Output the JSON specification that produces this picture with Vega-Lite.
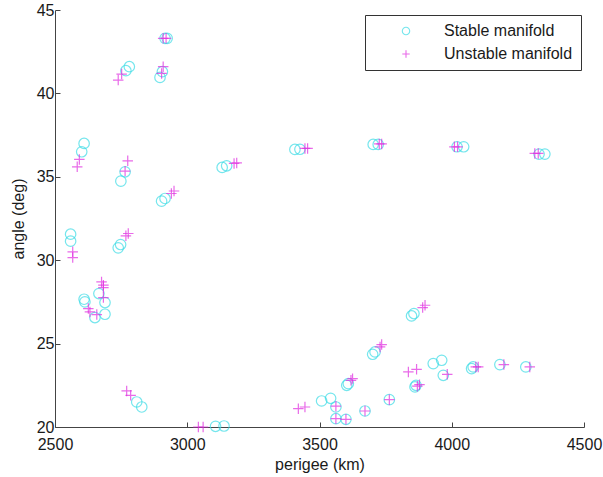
{
  "$schema": "https://vega.github.io/schema/vega-lite/v6.json",
  "width": 529,
  "height": 417,
  "autosize": {"type": "none"},
  "padding": {"left": 55, "top": 10, "right": 19, "bottom": 50},
  "background": "white",
  "config": {
    "view": {"stroke": null},
    "font": "Liberation Sans",
    "axis": {
      "grid": false,
      "domainColor": "#444",
      "tickColor": "#444",
      "tickSize": -5,
      "labelFontSize": 16,
      "labelColor": "#1a1a1a",
      "titleFontSize": 16,
      "titleFontWeight": "normal",
      "titleColor": "#1a1a1a",
      "labelFont": "Liberation Sans",
      "titleFont": "Liberation Sans"
    },
    "legend": {
      "labelFont": "Liberation Sans",
      "labelFontSize": 16,
      "labelColor": "#1a1a1a"
    }
  },
  "data": {
    "values": [
      {"perigee": 2916, "angle": 43.3, "type": "Stable manifold"},
      {"perigee": 2924, "angle": 43.3, "type": "Stable manifold"},
      {"perigee": 2897, "angle": 40.96, "type": "Stable manifold"},
      {"perigee": 2906, "angle": 41.3, "type": "Stable manifold"},
      {"perigee": 2768, "angle": 41.36, "type": "Stable manifold"},
      {"perigee": 2781, "angle": 41.6, "type": "Stable manifold"},
      {"perigee": 2610, "angle": 37.0, "type": "Stable manifold"},
      {"perigee": 2601, "angle": 36.5, "type": "Stable manifold"},
      {"perigee": 2765, "angle": 35.3, "type": "Stable manifold"},
      {"perigee": 2749, "angle": 34.74, "type": "Stable manifold"},
      {"perigee": 2903, "angle": 33.54, "type": "Stable manifold"},
      {"perigee": 2916, "angle": 33.7, "type": "Stable manifold"},
      {"perigee": 3132, "angle": 35.56, "type": "Stable manifold"},
      {"perigee": 3149, "angle": 35.66, "type": "Stable manifold"},
      {"perigee": 3407, "angle": 36.64, "type": "Stable manifold"},
      {"perigee": 3426, "angle": 36.65, "type": "Stable manifold"},
      {"perigee": 3703, "angle": 36.94, "type": "Stable manifold"},
      {"perigee": 3722, "angle": 36.94, "type": "Stable manifold"},
      {"perigee": 4020, "angle": 36.8, "type": "Stable manifold"},
      {"perigee": 4045, "angle": 36.8, "type": "Stable manifold"},
      {"perigee": 4330, "angle": 36.36, "type": "Stable manifold"},
      {"perigee": 4352, "angle": 36.36, "type": "Stable manifold"},
      {"perigee": 2559, "angle": 31.56, "type": "Stable manifold"},
      {"perigee": 2559, "angle": 31.14, "type": "Stable manifold"},
      {"perigee": 2739, "angle": 30.74, "type": "Stable manifold"},
      {"perigee": 2748, "angle": 30.94, "type": "Stable manifold"},
      {"perigee": 2610, "angle": 27.66, "type": "Stable manifold"},
      {"perigee": 2613, "angle": 27.5, "type": "Stable manifold"},
      {"perigee": 2651, "angle": 26.56, "type": "Stable manifold"},
      {"perigee": 2666, "angle": 28.0, "type": "Stable manifold"},
      {"perigee": 2689, "angle": 27.46, "type": "Stable manifold"},
      {"perigee": 2689, "angle": 26.76, "type": "Stable manifold"},
      {"perigee": 2809, "angle": 21.5, "type": "Stable manifold"},
      {"perigee": 2828, "angle": 21.2, "type": "Stable manifold"},
      {"perigee": 3107, "angle": 20.04, "type": "Stable manifold"},
      {"perigee": 3139, "angle": 20.06, "type": "Stable manifold"},
      {"perigee": 3508, "angle": 21.56, "type": "Stable manifold"},
      {"perigee": 3542, "angle": 21.72, "type": "Stable manifold"},
      {"perigee": 3562, "angle": 21.2, "type": "Stable manifold"},
      {"perigee": 3562, "angle": 20.5, "type": "Stable manifold"},
      {"perigee": 3600, "angle": 20.46, "type": "Stable manifold"},
      {"perigee": 3672, "angle": 20.96, "type": "Stable manifold"},
      {"perigee": 3764, "angle": 21.64, "type": "Stable manifold"},
      {"perigee": 3603, "angle": 22.5, "type": "Stable manifold"},
      {"perigee": 3609, "angle": 22.6, "type": "Stable manifold"},
      {"perigee": 3701, "angle": 24.36, "type": "Stable manifold"},
      {"perigee": 3710, "angle": 24.5, "type": "Stable manifold"},
      {"perigee": 3848, "angle": 26.66, "type": "Stable manifold"},
      {"perigee": 3857, "angle": 26.8, "type": "Stable manifold"},
      {"perigee": 3861, "angle": 22.4, "type": "Stable manifold"},
      {"perigee": 3865, "angle": 22.5, "type": "Stable manifold"},
      {"perigee": 3930, "angle": 23.8, "type": "Stable manifold"},
      {"perigee": 3962, "angle": 24.0, "type": "Stable manifold"},
      {"perigee": 3968, "angle": 23.1, "type": "Stable manifold"},
      {"perigee": 4075, "angle": 23.5, "type": "Stable manifold"},
      {"perigee": 4081, "angle": 23.6, "type": "Stable manifold"},
      {"perigee": 4182, "angle": 23.74, "type": "Stable manifold"},
      {"perigee": 4280, "angle": 23.6, "type": "Stable manifold"},
      {"perigee": 2909, "angle": 43.3, "type": "Unstable manifold"},
      {"perigee": 2920, "angle": 43.3, "type": "Unstable manifold"},
      {"perigee": 2909, "angle": 41.6, "type": "Unstable manifold"},
      {"perigee": 2903, "angle": 41.2, "type": "Unstable manifold"},
      {"perigee": 2739, "angle": 40.8, "type": "Unstable manifold"},
      {"perigee": 2752, "angle": 41.16, "type": "Unstable manifold"},
      {"perigee": 2592, "angle": 36.04, "type": "Unstable manifold"},
      {"perigee": 2584, "angle": 35.6, "type": "Unstable manifold"},
      {"perigee": 2775, "angle": 35.96, "type": "Unstable manifold"},
      {"perigee": 2765, "angle": 35.34, "type": "Unstable manifold"},
      {"perigee": 2940, "angle": 34.0, "type": "Unstable manifold"},
      {"perigee": 2950, "angle": 34.15, "type": "Unstable manifold"},
      {"perigee": 3177, "angle": 35.8, "type": "Unstable manifold"},
      {"perigee": 3187, "angle": 35.83, "type": "Unstable manifold"},
      {"perigee": 3445, "angle": 36.7, "type": "Unstable manifold"},
      {"perigee": 3455, "angle": 36.7, "type": "Unstable manifold"},
      {"perigee": 3726, "angle": 36.97, "type": "Unstable manifold"},
      {"perigee": 3735, "angle": 36.97, "type": "Unstable manifold"},
      {"perigee": 4010, "angle": 36.8, "type": "Unstable manifold"},
      {"perigee": 4022, "angle": 36.8, "type": "Unstable manifold"},
      {"perigee": 4314, "angle": 36.4, "type": "Unstable manifold"},
      {"perigee": 4327, "angle": 36.4, "type": "Unstable manifold"},
      {"perigee": 2567, "angle": 30.5, "type": "Unstable manifold"},
      {"perigee": 2567, "angle": 30.16, "type": "Unstable manifold"},
      {"perigee": 2768, "angle": 31.46, "type": "Unstable manifold"},
      {"perigee": 2777, "angle": 31.6, "type": "Unstable manifold"},
      {"perigee": 2626, "angle": 27.1, "type": "Unstable manifold"},
      {"perigee": 2632, "angle": 26.9, "type": "Unstable manifold"},
      {"perigee": 2658, "angle": 26.74, "type": "Unstable manifold"},
      {"perigee": 2676, "angle": 28.7, "type": "Unstable manifold"},
      {"perigee": 2683, "angle": 28.5, "type": "Unstable manifold"},
      {"perigee": 2683, "angle": 28.36, "type": "Unstable manifold"},
      {"perigee": 2683, "angle": 27.76, "type": "Unstable manifold"},
      {"perigee": 2771, "angle": 22.16, "type": "Unstable manifold"},
      {"perigee": 2786, "angle": 21.9, "type": "Unstable manifold"},
      {"perigee": 3042, "angle": 20.0, "type": "Unstable manifold"},
      {"perigee": 3060, "angle": 20.0, "type": "Unstable manifold"},
      {"perigee": 3420, "angle": 21.1, "type": "Unstable manifold"},
      {"perigee": 3445, "angle": 21.2, "type": "Unstable manifold"},
      {"perigee": 3562, "angle": 21.25, "type": "Unstable manifold"},
      {"perigee": 3562, "angle": 20.5, "type": "Unstable manifold"},
      {"perigee": 3600, "angle": 20.46, "type": "Unstable manifold"},
      {"perigee": 3672, "angle": 20.96, "type": "Unstable manifold"},
      {"perigee": 3764, "angle": 21.64, "type": "Unstable manifold"},
      {"perigee": 3619, "angle": 22.8, "type": "Unstable manifold"},
      {"perigee": 3625, "angle": 22.9, "type": "Unstable manifold"},
      {"perigee": 3729, "angle": 24.8, "type": "Unstable manifold"},
      {"perigee": 3735, "angle": 24.94, "type": "Unstable manifold"},
      {"perigee": 3890, "angle": 27.16, "type": "Unstable manifold"},
      {"perigee": 3899, "angle": 27.3, "type": "Unstable manifold"},
      {"perigee": 3836, "angle": 23.3, "type": "Unstable manifold"},
      {"perigee": 3867, "angle": 23.46, "type": "Unstable manifold"},
      {"perigee": 3870, "angle": 22.45, "type": "Unstable manifold"},
      {"perigee": 3878, "angle": 22.54, "type": "Unstable manifold"},
      {"perigee": 3983, "angle": 23.16, "type": "Unstable manifold"},
      {"perigee": 4091, "angle": 23.6, "type": "Unstable manifold"},
      {"perigee": 4100, "angle": 23.6, "type": "Unstable manifold"},
      {"perigee": 4197, "angle": 23.74, "type": "Unstable manifold"},
      {"perigee": 4295, "angle": 23.6, "type": "Unstable manifold"}
    ]
  },
  "mark": {"type": "point", "filled": false, "strokeWidth": 1.2, "size": 110},
  "encoding": {
    "x": {
      "field": "perigee",
      "type": "quantitative",
      "title": "perigee (km)",
      "scale": {"domain": [2500, 4500], "nice": false, "zero": false},
      "axis": {"values": [2500, 3000, 3500, 4000, 4500], "format": "d", "labelPadding": 14, "titlePadding": 4, "labelFlush": false}
    },
    "y": {
      "field": "angle",
      "type": "quantitative",
      "title": "angle (deg)",
      "scale": {"domain": [20, 45], "nice": false, "zero": false},
      "axis": {"values": [20, 25, 30, 35, 40, 45], "format": "d", "labelPadding": 6, "titlePadding": 10, "labelFlush": false}
    },
    "color": {
      "field": "type",
      "type": "nominal",
      "scale": {"domain": ["Stable manifold", "Unstable manifold"], "range": ["#3cdce6", "#e02ce0"]},
      "legend": {
        "title": null,
        "orient": "none",
        "legendX": 310,
        "legendY": 5,
        "strokeColor": "#333",
        "fillColor": "white",
        "padding": 8,
        "rowPadding": 7,
        "symbolSize": 55,
        "symbolStrokeWidth": 1.1,
        "symbolOffset": 25,
        "labelOffset": 30
      }
    },
    "shape": {
      "field": "type",
      "type": "nominal",
      "scale": {"domain": ["Stable manifold", "Unstable manifold"], "range": ["circle", "M-1,0L1,0M0,-1L0,1"]},
      "legend": null
    }
  }
}
